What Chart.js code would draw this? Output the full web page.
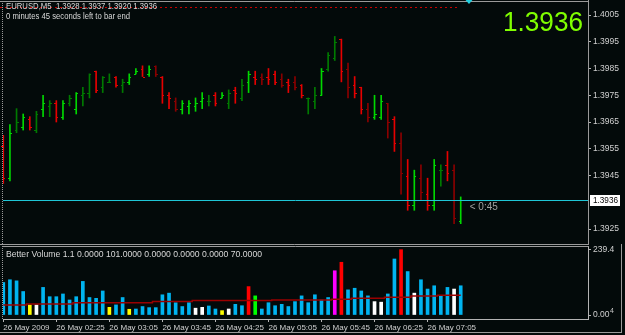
<!DOCTYPE html>
<html>
<head>
<meta charset="utf-8">
<script src="https://cdn.jsdelivr.net/npm/chart.js@4.4.1/dist/chart.umd.min.js"></script>
<style>
  html, body { margin: 0; padding: 0; background: #030a0a; }
  #wrap { position: relative; width: 625px; height: 335px; overflow: hidden; background: #030a0a; }
  canvas { position: absolute; left: 0; }
  #priceCanvas { top: 0; }
  #volCanvas { top: 244px; }
</style>
</head>
<body>
<div id="wrap">
  <canvas id="priceCanvas" width="625" height="245"></canvas>
  <canvas id="volCanvas" width="625" height="91"></canvas>
</div>
<script>
// EURUSD M5, 26 May 2009, 70 bars (01:45 .. 07:30)
var opens = [1.3956,1.3944,1.3962,1.3963,1.3966,1.3962,1.3970,1.3971,1.3972,1.3967,
  1.3972,1.3970,1.3975,1.3976,1.3984,1.3978,1.3980,1.3982,1.3979,1.3980,
  1.3983,1.3985,1.3983,1.3986,1.3982,1.3975,1.3973,1.3970,1.3971,1.3971,
  1.3973,1.3973,1.3975,1.3974,1.3972,1.3977,1.3974,1.3980,1.3982,1.3982,
  1.3982,1.3983,1.3981,1.3980,1.3980,1.3979,1.3974,1.3973,1.3975,1.3985,
  1.3989,1.3996,1.3985,1.3979,1.3978,1.3970,1.3967,1.3967,1.3972,1.3966,
  1.3957,1.3945,1.3934,1.3944,1.3938,1.3934,1.3947,1.3949,1.3947,1.3928];
var highs = [1.3960,1.3964,1.3970,1.3968,1.3967,1.3969,1.3975,1.3973,1.3973,1.3973,
  1.3975,1.3976,1.3978,1.3983,1.3984,1.3982,1.3983,1.3982,1.3981,1.3983,
  1.3985,1.3986,1.3986,1.3986,1.3982,1.3976,1.3974,1.3973,1.3973,1.3974,
  1.3976,1.3975,1.3976,1.3976,1.3977,1.3978,1.3981,1.3984,1.3984,1.3983,
  1.3985,1.3984,1.3983,1.3981,1.3982,1.3979,1.3974,1.3978,1.3985,1.3991,
  1.3997,1.3996,1.3987,1.3982,1.3978,1.3972,1.3975,1.3975,1.3972,1.3967,
  1.3961,1.3951,1.3947,1.3949,1.3944,1.3951,1.3949,1.3954,1.3949,1.3937];
var lows = [1.3942,1.3943,1.3961,1.3962,1.3962,1.3961,1.3967,1.3967,1.3965,1.3966,
  1.3971,1.3968,1.3971,1.3974,1.3976,1.3976,1.3980,1.3978,1.3976,1.3979,
  1.3983,1.3982,1.3982,1.3982,1.3972,1.3970,1.3969,1.3968,1.3968,1.3969,
  1.3970,1.3971,1.3971,1.3974,1.3970,1.3972,1.3973,1.3976,1.3979,1.3979,
  1.3979,1.3979,1.3978,1.3976,1.3977,1.3974,1.3968,1.3970,1.3975,1.3984,
  1.3988,1.3980,1.3974,1.3974,1.3968,1.3965,1.3966,1.3966,1.3959,1.3954,
  1.3938,1.3932,1.3932,1.3936,1.3932,1.3932,1.3941,1.3943,1.3927,1.3927];
var closes = [1.3944,1.3961,1.3965,1.3967,1.3963,1.3968,1.3972,1.3972,1.3967,1.3972,
  1.3974,1.3976,1.3976,1.3983,1.3977,1.3982,1.3980,1.3979,1.3980,1.3982,
  1.3984,1.3982,1.3985,1.3983,1.3975,1.3974,1.3970,1.3972,1.3972,1.3972,
  1.3974,1.3973,1.3972,1.3975,1.3976,1.3976,1.3979,1.3983,1.3981,1.3981,
  1.3981,1.3980,1.3979,1.3979,1.3978,1.3975,1.3974,1.3975,1.3984,1.3990,
  1.3995,1.3984,1.3978,1.3976,1.3970,1.3967,1.3968,1.3973,1.3965,1.3957,
  1.3946,1.3934,1.3945,1.3939,1.3934,1.3949,1.3947,1.3946,1.3929,1.3936];
// bar colouring state: G up, g up (weak), R down, r down (weak)
var barState = ['R','G','g','G','R','g','G','g','R','G',
  'g','G','g','g','R','g','g','R','g','G',
  'G','R','G','r','R','R','r','G','G','G',
  'G','g','R','G','g','R','g','G','R','r',
  'R','R','r','R','r','R','g','g','G','g',
  'g','R','r','R','R','r','G','G','r','R',
  'r','R','G','r','R','G','g','R','r','G'];

// Better Volume 1.1
var volumes = [119,129,125,86,37,37,101,67,67,77,
  55,67,123,64,61,88,28,37,64,21,
  22,31,27,27,74,80,45,31,45,25,
  28,33,22,16,22,39,34,104,70,22,
  45,34,39,31,49,70,45,74,55,64,
  162,193,92,98,88,70,49,47,77,205,
  239,159,80,129,95,107,70,101,95,107];
// B normal, Y low, W neutral, R climax, G churn, M climax churn
var volState = ['B','B','B','B','Y','W','B','B','B','B',
  'B','B','B','B','B','B','Y','B','B','Y',
  'B','B','B','B','B','B','B','B','B','W',
  'W','B','B','Y','W','B','B','R','G','B',
  'B','B','B','B','B','B','B','B','B','B',
  'M','R','B','B','B','B','W','W','B','B',
  'R','B','W','B','B','B','B','B','W','B'];
var volAverage = [37,37,37,37,40,40,40,40,40,40,
  40,45,45,45,45,45,45,45,45,45,
  45,45,45,49,49,49,49,49,49,53,
  53,53,53,53,53,53,53,53,53,53,
  53,55,55,55,55,55,55,55,55,55,
  58,58,58,61,61,61,61,61,65,65,
  65,65,70,70,70,70,72,72,72,72];

var priceTicks = [1.3925, 1.3945, 1.3955, 1.3965, 1.3975, 1.3985, 1.3995, 1.4005];
var volTicks = [0, 239.4];
var tickIndex = [0, 8, 16, 24, 32, 40, 48, 56, 64];
var tickLabels = ['26 May 2009', '26 May 02:25', '26 May 03:05', '26 May 03:45', '26 May 04:25',
  '26 May 05:05', '26 May 05:45', '26 May 06:25', '26 May 07:05'];

var symbolLine = 'EURUSD,M5  1.3928 1.3937 1.3920 1.3936';
var timerLine = '0 minutes 45 seconds left to bar end';
var volTitle = 'Better Volume 1.1 0.0000 101.0000 0.0000 0.0000 0.0000 70.0000';
var topLevel = 1.4008;

var barColors = { G: '#00d800', g: '#007a00', R: '#e60000', r: '#8a0000' };
var volColors = { B: '#00b4f0', Y: '#ffff00', W: '#ffffff', R: '#ff0000', G: '#00ff00', M: '#ff00ff' };
var FONT = '"Liberation Sans", Arial, sans-serif';
var AXIS = '#b4b4b4';
var X_MIN = -0.045, X_MAX = 88.2;

function txt(ctx, s, x, y, size, color, align, maxW) {
  ctx.font = size + 'px ' + FONT;
  ctx.fillStyle = color;
  ctx.textAlign = align || 'left';
  ctx.textBaseline = 'middle';
  if (maxW) ctx.fillText(s, x, y, maxW); else ctx.fillText(s, x, y);
}

// keep the plot areas exactly where MT4 puts them
function fixWidth(w) {
  return function(s) { s.width = w; s.paddingTop = 0; s.paddingBottom = 0; s.paddingLeft = 0; s.paddingRight = 0; };
}
function fixHeight(h) {
  return function(s) { s.height = h; s.paddingTop = 0; s.paddingBottom = 0; s.paddingLeft = 0; s.paddingRight = 0; };
}

var priceDecor = {
  id: 'priceDecor',
  afterDatasetsDraw: function(chart) {
    var ctx = chart.ctx, x = chart.scales.x, y = chart.scales.y;
    ctx.save();
    ctx.lineWidth = 1;
    for (var i = 0; i < opens.length; i++) {
      var px = Math.round(x.getPixelForValue(i));
      var yo = Math.round(y.getPixelForValue(opens[i])) + 0.5;
      var yc = Math.round(y.getPixelForValue(closes[i])) + 0.5;
      ctx.strokeStyle = barColors[barState[i]];
      ctx.beginPath();
      ctx.moveTo(px - 2, yo); ctx.lineTo(px, yo);
      ctx.moveTo(px, yc); ctx.lineTo(px + 2, yc);
      ctx.stroke();
    }
    ctx.restore();
  },
  afterDraw: function(chart) {
    var ctx = chart.ctx, x = chart.scales.x, y = chart.scales.y, a = chart.chartArea;
    var last = closes[closes.length - 1];
    ctx.save();
    // frame
    ctx.strokeStyle = '#9a9a9a';
    ctx.lineWidth = 1;
    ctx.beginPath();
    ctx.moveTo(0, 1.5); ctx.lineTo(a.right + 0.5, 1.5);
    ctx.moveTo(a.right + 0.5, 0); ctx.lineTo(a.right + 0.5, 245);
    ctx.moveTo(0, 244.5); ctx.lineTo(a.right + 0.5, 244.5);
    ctx.stroke();
    ctx.setLineDash([1, 1]);
    ctx.beginPath(); ctx.moveTo(2.5, 1); ctx.lineTo(2.5, 245); ctx.stroke();
    // dotted level near the top
    ctx.strokeStyle = '#c80000';
    ctx.setLineDash([2, 3]);
    var yl = Math.round(y.getPixelForValue(topLevel)) + 0.5;
    ctx.beginPath(); ctx.moveTo(0, yl); ctx.lineTo(x.getPixelForValue(68.6), yl); ctx.stroke();
    ctx.setLineDash([]);
    // chart shift marker
    var sx = x.getPixelForValue(70.25);
    ctx.fillStyle = '#20d0e0';
    ctx.beginPath(); ctx.moveTo(sx - 3.5, 0); ctx.lineTo(sx + 3.5, 0); ctx.lineTo(sx, 4); ctx.closePath(); ctx.fill();
    // bid line
    var yb = Math.round(y.getPixelForValue(last)) + 0.5;
    ctx.strokeStyle = '#1fc6d6';
    ctx.beginPath(); ctx.moveTo(a.left, yb); ctx.lineTo(a.right, yb); ctx.stroke();
    // bid label on axis
    ctx.fillStyle = '#ffffff';
    ctx.fillRect(a.right + 2, yb - 5.5, 30, 11);
    txt(ctx, last.toFixed(4), a.right + 5, yb + 0.5, 8.5, '#000000', 'left', 25);
    // countdown
    txt(ctx, '< 0:45', x.getPixelForValue(69) + 9, yb + 6.5, 10, '#a0a0a0', 'left');
    // header
    txt(ctx, symbolLine, 6, 7, 9, '#d8d8d8', 'left', 151);
    txt(ctx, timerLine, 6, 16.5, 9, '#d8d8d8', 'left', 124);
    // big price
    txt(ctx, last.toFixed(4), 583, 23.5, 27, '#80ff00', 'right', 80);
    ctx.restore();
  }
};

var volDecor = {
  id: 'volDecor',
  afterDraw: function(chart) {
    var ctx = chart.ctx, a = chart.chartArea, y = chart.scales.y;
    ctx.save();
    ctx.strokeStyle = '#9a9a9a';
    ctx.lineWidth = 1;
    ctx.beginPath();
    ctx.moveTo(2, a.top + 0.5); ctx.lineTo(a.right + 0.5, a.top + 0.5);
    ctx.moveTo(0, 88.5); ctx.lineTo(622, 88.5);
    ctx.moveTo(621.5, 0); ctx.lineTo(621.5, 89);
    ctx.stroke();
    ctx.setLineDash([1, 1]);
    ctx.beginPath(); ctx.moveTo(2.5, a.top); ctx.lineTo(2.5, a.bottom); ctx.stroke();
    ctx.setLineDash([]);
    txt(ctx, volTitle, 6, 11, 9, '#d8d8d8', 'left', 256);
    txt(ctx, '4', a.right + 22, y.getPixelForValue(0) - 4, 7, '#c8c8c8', 'left');
    ctx.restore();
  }
};

new Chart(document.getElementById('priceCanvas'), {
  type: 'bar',
  data: {
    datasets: [{
      data: highs.map(function(h, i) { return { x: i, y: [lows[i], h] }; }),
      backgroundColor: barState.map(function(s) { return barColors[s]; }),
      borderWidth: 0,
      barThickness: 1,
      grouped: false
    }]
  },
  options: {
    responsive: false,
    animation: false,
    devicePixelRatio: 1,
    layout: { padding: { left: 3, top: 3, right: 0, bottom: 2 } },
    plugins: { legend: { display: false }, tooltip: { enabled: false } },
    scales: {
      x: { type: 'linear', display: false, min: X_MIN, max: X_MAX, offset: false },
      y: {
        position: 'right',
        min: 1.391977, max: 1.400949,
        afterFit: fixWidth(37),
        afterBuildTicks: function(s) { s.ticks = priceTicks.map(function(v) { return { value: v }; }); },
        grid: { drawOnChartArea: false, tickLength: 3, color: AXIS },
        border: { color: AXIS },
        ticks: {
          color: '#d0d0d0', padding: 2,
          font: { family: FONT, size: 8.5 },
          callback: function(v) { return Number(v).toFixed(4); }
        }
      }
    }
  },
  plugins: [priceDecor]
});

new Chart(document.getElementById('volCanvas'), {
  type: 'bar',
  data: {
    datasets: [{
      type: 'line',
      data: volAverage.map(function(v, i) { return { x: i, y: v }; }),
      borderColor: '#9a0000',
      borderWidth: 1.5,
      pointRadius: 0,
      stepped: 'middle',
      order: 0
    }, {
      data: volumes.map(function(v, i) { return { x: i, y: v }; }),
      backgroundColor: volState.map(function(s) { return volColors[s]; }),
      borderWidth: 0,
      barThickness: 3,
      grouped: false,
      order: 1
    }]
  },
  options: {
    responsive: false,
    animation: false,
    devicePixelRatio: 1,
    layout: { padding: { left: 3, top: 2, right: 0, bottom: 0 } },
    plugins: { legend: { display: false }, tooltip: { enabled: false } },
    scales: {
      x: {
        type: 'linear', min: X_MIN, max: X_MAX, offset: false,
        afterFit: fixHeight(16),
        afterBuildTicks: function(s) { s.ticks = tickIndex.map(function(v) { return { value: v }; }); },
        grid: { drawOnChartArea: false, tickLength: 3, color: AXIS, offset: false },
        border: { color: AXIS },
        ticks: {
          align: 'start', autoSkip: false, maxRotation: 0, padding: 1,
          color: '#d0d0d0', font: { family: FONT, size: 8 },
          callback: function(v, i) { return tickLabels[i]; }
        }
      },
      y: {
        position: 'right',
        min: -14.6, max: 252.5,
        afterFit: fixWidth(37),
        afterBuildTicks: function(s) { s.ticks = volTicks.map(function(v) { return { value: v }; }); },
        grid: { drawOnChartArea: false, tickLength: 3, color: AXIS },
        border: { color: AXIS },
        ticks: {
          color: '#d0d0d0', padding: 2,
          font: { family: FONT, size: 8.5 },
          callback: function(v) { return v === 0 ? '0.00' : String(v); }
        }
      }
    }
  },
  plugins: [volDecor]
});
</script>
</body>
</html>
